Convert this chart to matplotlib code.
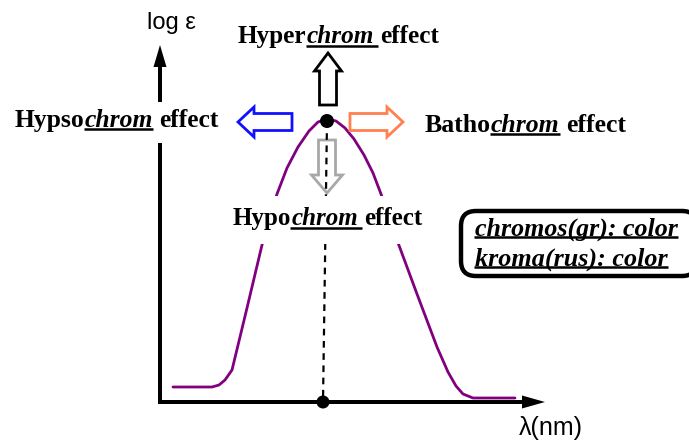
import matplotlib
matplotlib.use('Agg')
import matplotlib.pyplot as plt
from matplotlib.patches import FancyArrow, FancyBboxPatch, Rectangle, Circle

# ---- data (schematic coordinates, pixel-like units) ----
curve_x = [173, 212, 219, 225, 232, 247, 262, 277, 287, 298, 309, 318, 327,
           336, 345, 354, 364, 373, 381, 397, 417, 437, 448, 456, 463, 473, 515]
curve_y = [387, 387, 385, 380, 370, 308, 245, 194, 168, 147, 131, 122, 119,
           121, 128, 139, 155, 173, 194, 240, 294, 347, 372, 386, 394, 398, 398]
peak_x, peak_y = 327, 121
base_x, base_y = 323, 402

labels = {
    'hyper': [("Hyper", 'normal', False), ("chrom", 'italic', True), (" effect", 'normal', False)],
    'hypso': [("Hypso", 'normal', False), ("chrom", 'italic', True), (" effect", 'normal', False)],
    'batho': [("Batho", 'normal', False), ("chrom", 'italic', True), (" effect", 'normal', False)],
    'hypo':  [("Hypo", 'normal', False), ("chrom", 'italic', True), (" effect", 'normal', False)],
}
box_lines = ["chromos(gr): color", "kroma(rus): color"]
y_label = "log ε"
x_label = "λ(nm)"

W, H = 689, 441
fig = plt.figure(figsize=(6.89, 4.41), dpi=100)
ax = fig.add_axes([0, 0, 1, 1])
ax.set_xlim(0, W)
ax.set_ylim(H, 0)
ax.axis('off')
renderer = fig.canvas.get_renderer()

SERIF = 'Liberation Serif'


def measure(s, size, style):
    t = ax.text(0, 0, s, fontsize=size, family=SERIF, weight='bold', style=style)
    w = t.get_window_extent(renderer).width
    t.remove()
    return w


def space_w(size, style):
    return measure("a a", size, style) - measure("aa", size, style)


def rich(segs, x0, yc, target_w, ul_extra=0.0, ul_off=9):
    base = 10
    tot = 0
    for s, st, _ in segs:
        lead = len(s) - len(s.lstrip(' '))
        tot += measure(s.strip(), base, st) + lead * space_w(base, st)
    size = base * target_w / tot
    x = x0
    for s, st, ul in segs:
        lead = len(s) - len(s.lstrip(' '))
        x += lead * space_w(size, st)
        core = s.strip()
        w = measure(core, size, st)
        ax.text(x, yc, core, fontsize=size, family=SERIF, weight='bold', style=st,
                va='center_baseline', ha='left', zorder=7, color='black')
        if ul:
            ax.plot([x - 1, x + w + ul_extra], [yc + ul_off, yc + ul_off], color='black',
                    lw=1.8, solid_capstyle='butt', zorder=7)
        x += w
    return size


# white backgrounds that interrupt lines
ax.add_patch(Rectangle((8, 102), 222, 41, fc='white', ec='none', zorder=5))
ax.add_patch(Rectangle((226, 196), 206, 48, fc='white', ec='none', zorder=5))

# axes arrows
ax.add_patch(FancyArrow(160, 402, 0, -357, width=4, head_width=13, head_length=22,
                        length_includes_head=True, fc='black', ec='none', zorder=3))
ax.add_patch(FancyArrow(158, 402, 387, 0, width=4, head_width=13, head_length=23,
                        length_includes_head=True, fc='black', ec='none', zorder=3))

# curve
ax.plot(curve_x, curve_y, color='#800080', lw=2.0, zorder=2,
        solid_capstyle='round', solid_joinstyle='round')

# dashed drop line
ax.plot([peak_x, base_x], [peak_y, base_y], color='black', lw=1.6,
        linestyle=(0, (3, 2.5)), zorder=4)

# hollow arrows
ax.add_patch(FancyArrow(328, 105, 0, -52, width=17, head_width=27, head_length=18,
                        length_includes_head=True, fc='white', ec='black', lw=2.0, zorder=3))
ax.add_patch(FancyArrow(327, 140, 0, 53, width=17, head_width=31, head_length=18,
                        length_includes_head=True, fc='white', ec='#a8a8a8', lw=2.0, zorder=3))
ax.add_patch(FancyArrow(292, 122, -54, 0, width=17, head_width=30, head_length=16,
                        length_includes_head=True, fc='white', ec='#1010ff', lw=2.0, zorder=3))
ax.add_patch(FancyArrow(350, 122, 53, 0, width=17, head_width=30, head_length=16,
                        length_includes_head=True, fc='white', ec='#ff8050', lw=2.0, zorder=3))

# points
ax.add_patch(Circle((peak_x, peak_y), 7, fc='black', ec='none', zorder=6))
ax.add_patch(Circle((base_x, base_y), 6.5, fc='black', ec='none', zorder=6))

# effect labels
rich(labels['hyper'], 238, 34, 202, ul_extra=4, ul_off=12)
rich(labels['hypso'], 15, 118, 205, ul_off=11)
rich(labels['batho'], 425, 123, 202, ul_off=11)
rich(labels['hypo'], 233, 216, 190, ul_extra=4, ul_off=12)

# definition box
ax.add_patch(FancyBboxPatch((461, 211), 236, 65,
                            boxstyle='round,pad=0,rounding_size=15',
                            fc='white', ec='black', lw=3.2, zorder=5))
rich([(box_lines[0], 'italic', True)], 475, 227, 203, ul_off=10)
rich([(box_lines[1], 'italic', True)], 475, 257, 193, ul_off=10)

# axis labels
ax.text(147, 23, y_label, fontsize=17, family=['Liberation Sans', 'DejaVu Sans'],
        va='center', ha='left', zorder=7)
ax.text(519, 428, x_label, fontsize=18, family=['Liberation Sans', 'DejaVu Sans'],
        va='center', ha='left', zorder=7)

fig.savefig('out.png', dpi=100)
